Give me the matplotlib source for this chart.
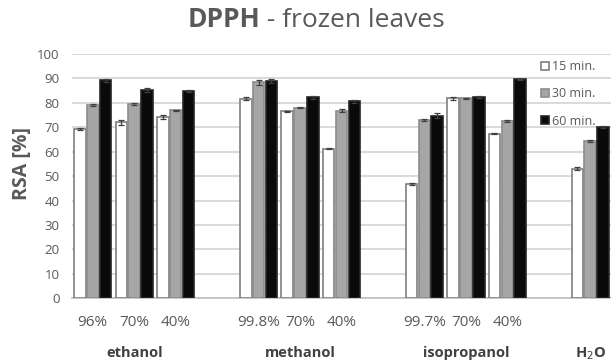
import matplotlib
matplotlib.use("Agg")
import matplotlib.pyplot as plt
import numpy as np

# Solvent concentrations and groups
concentrations = ["96%", "70%", "40%", "99.8%", "70%", "40%", "99.7%", "70%", "40%", ""]
groups = ["ethanol", "methanol", "isopropanol", "H$_2$O"]
group_slots = [1, 5, 9, 12]
# category slots (gaps left between solvent groups)
slots = [0, 1, 2, 4, 5, 6, 8, 9, 10, 12]

# RSA [%] after each extraction time
rsa_15 = [69.2, 72.0, 74.2, 81.6, 76.6, 61.3, 46.6, 81.8, 67.3, 53.0]
rsa_30 = [79.1, 79.6, 76.9, 88.5, 78.1, 76.8, 72.9, 81.8, 72.4, 64.5]
rsa_60 = [89.2, 85.1, 84.8, 88.9, 82.2, 80.6, 74.8, 82.5, 89.6, 70.2]

err_15 = [0.5, 1.0, 0.8, 0.6, 0.2, 0.3, 0.4, 0.5, 0.2, 0.6]
err_30 = [0.4, 0.4, 0.3, 1.0, 0.3, 0.7, 0.5, 0.3, 0.4, 0.5]
err_60 = [0.5, 0.8, 0.3, 0.8, 0.5, 0.6, 0.9, 0.5, 0.2, 0.4]

series_labels = ["15 min.", "30 min.", "60 min."]

plt.rcParams["font.family"] = ["Open Sans", "DejaVu Sans"]

W, H = 611, 361
fig = plt.figure(figsize=(W / 100, H / 100), dpi=100)
ax = fig.add_axes([72 / W, (H - 298.3) / H, (W - 72) / W, 244.3 / H])

x = np.array(slots, dtype=float)
bw = 0.28
off = 0.31
styles = [
    dict(color="white", edgecolor="#7f7f7f"),
    dict(color="#a6a6a6", edgecolor="#8c8c8c"),
    dict(color="#0a0a0a", edgecolor="#262626"),
]
for i, (vals, errs) in enumerate(zip([rsa_15, rsa_30, rsa_60], [err_15, err_30, err_60])):
    ax.bar(x + (i - 1) * off, vals, width=bw, linewidth=1.2,
           yerr=errs, capsize=2.5,
           error_kw=dict(ecolor="#404040", elinewidth=0.9, capthick=0.9),
           label=series_labels[i], zorder=3, **styles[i])

ax.set_xlim(-0.5, 12.5)
ax.set_ylim(0, 100)
ax.set_yticks(np.arange(0, 101, 10))
ax.yaxis.grid(True, color="#d9d9d9", linewidth=1.4, zorder=0)
ax.set_axisbelow(True)
for s in ["top", "right", "left"]:
    ax.spines[s].set_visible(False)
ax.spines["bottom"].set_color("#bfbfbf")
ax.spines["bottom"].set_linewidth(1.2)
ax.tick_params(axis="y", length=0, pad=9, labelsize=9.5, labelcolor="#595959")

ax.set_xticks(x)
ax.set_xticklabels(concentrations)
ax.tick_params(axis="x", length=0, pad=12, labelsize=11, labelcolor="#595959")

for g, s in zip(groups, group_slots):
    ax.annotate(g, xy=(s, 0), xycoords=("data", "axes fraction"),
                xytext=(0, -39.5), textcoords="offset points",
                ha="center", va="center", fontsize=10.5, fontweight="bold",
                color="#404040")

ax.set_ylabel("RSA [%]", fontsize=14, fontweight="bold", color="#595959")
ax.yaxis.set_label_coords(-(72 - 32) / (W - 72), (298.3 - 164) / 244.3)

# Title: bold "DPPH" followed by regular text, centred as one line
t1 = fig.text(0.5, 1 - 27 / H, "DPPH", fontsize=19, fontweight="bold", color="#595959",
              ha="right", va="baseline")
t2 = fig.text(0.5, 1 - 27 / H, " - frozen leaves", fontsize=19, color="#595959",
              ha="left", va="baseline")
fig.canvas.draw()
r = fig.canvas.get_renderer()
w1 = t1.get_window_extent(r).width
w2 = t2.get_window_extent(r).width
cx = 316
t1.set_x((cx - (w1 + w2) / 2 + w1) / W)
t2.set_x((cx - (w1 + w2) / 2 + w1) / W)

ax.legend(loc="upper left", bbox_to_anchor=(541 / W, 1 - 60 / H),
          bbox_transform=fig.transFigure, frameon=False, fontsize=9,
          labelspacing=1.15, handlelength=0.6, handleheight=0.6,
          handletextpad=0.3, borderpad=0, borderaxespad=0,
          labelcolor="#595959")

fig.savefig("out.png", dpi=100)
